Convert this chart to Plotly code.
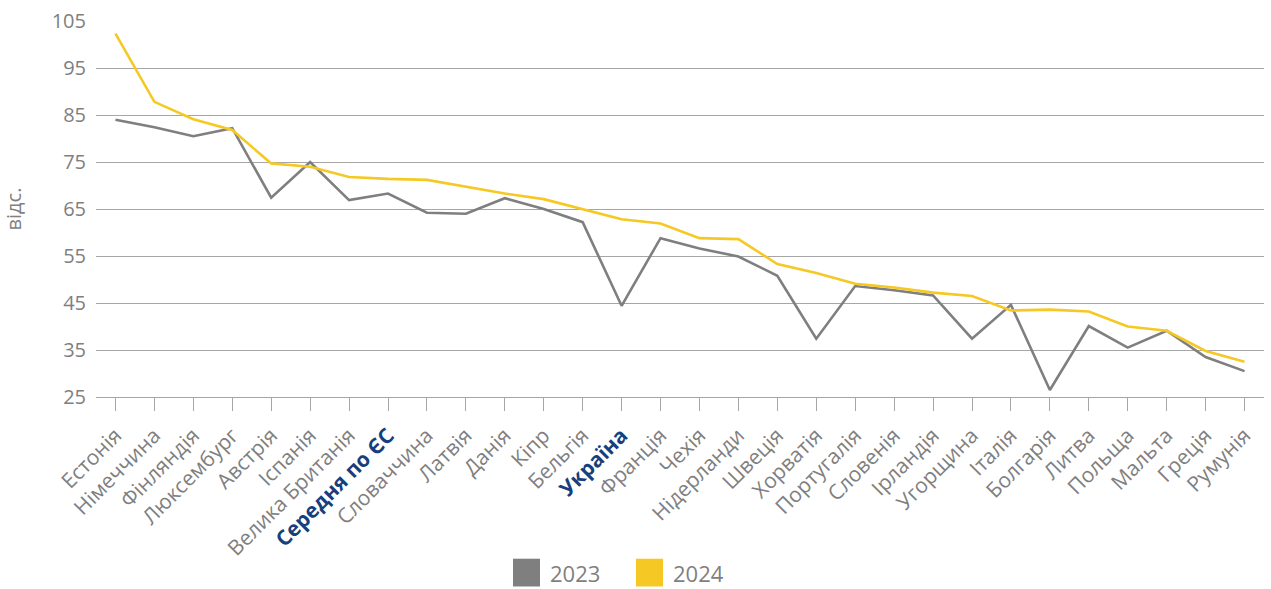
import plotly.graph_objects as go

categories = ["Естонія", "Німеччина", "Фінляндія", "Люксембург", "Австрія", "Іспанія",
              "Велика Британія", "Середня по ЄС", "Словаччина", "Латвія", "Данія", "Кіпр",
              "Бельгія", "Україна", "Франція", "Чехія", "Нідерланди", "Швеція", "Хорватія",
              "Португалія", "Словенія", "Ірландія", "Угорщина", "Італія", "Болгарія",
              "Литва", "Польща", "Мальта", "Греція", "Румунія"]

values_2023 = [84.0, 82.4, 80.5, 82.2, 67.4, 75.0, 66.9, 68.3, 64.2, 64.0, 67.3, 65.0,
               62.2, 44.4, 58.8, 56.6, 54.9, 50.8, 37.4, 48.6, 47.7, 46.6, 37.4, 44.6,
               26.5, 40.1, 35.5, 39.1, 33.5, 30.5]

values_2024 = [102.3, 87.8, 84.1, 81.8, 74.7, 74.0, 71.8, 71.4, 71.2, 69.7, 68.3, 67.1,
               65.0, 62.8, 61.9, 58.8, 58.6, 53.3, 51.4, 49.1, 48.3, 47.2, 46.5, 43.4,
               43.6, 43.2, 40.0, 39.1, 34.8, 32.5]

highlight = {"Середня по ЄС", "Україна"}
series_names = ["2023", "2024"]

GRAY = "#7f7f7f"
YELLOW = "#f6c823"
BLUE = "#173f7d"
FONT = "Open Sans"

ticktext = [
    f"<b><span style='color:{BLUE}'>{c}</span></b>" if c in highlight else c
    for c in categories
]

fig = go.Figure()
fig.add_trace(go.Scatter(x=categories, y=values_2023, mode="lines", name=series_names[0],
                         line=dict(color=GRAY, width=2.6), showlegend=False))
fig.add_trace(go.Scatter(x=categories, y=values_2024, mode="lines", name=series_names[1],
                         line=dict(color=YELLOW, width=2.6), showlegend=False))

fig.update_layout(
    width=1271, height=589,
    margin=dict(l=96, r=7, t=18, b=192),
    paper_bgcolor="white", plot_bgcolor="white",
    font=dict(family=FONT, color=GRAY, size=20),
    xaxis=dict(
        type="category", categoryorder="array", categoryarray=categories,
        range=[-0.5, len(categories) - 0.5],
        tickmode="array", tickvals=categories, ticktext=ticktext,
        tickangle=-45, ticks="outside", ticklen=13, tickcolor="#a6a6a6", tickwidth=1,
        ticklabelstandoff=4,
        tickfont=dict(family=FONT, size=21, color=GRAY),
        showgrid=False, showline=True, linecolor="#a6a6a6", linewidth=1,
        zeroline=False,
    ),
    yaxis=dict(
        range=[25, 105], dtick=10, tick0=25,
        showgrid=True, gridcolor="#a6a6a6", gridwidth=1,
        zeroline=False, showline=False,
        ticklabelstandoff=9,
        tickfont=dict(family=FONT, size=20, color=GRAY),
        title=dict(text="відс.", font=dict(family=FONT, size=20, color=GRAY), standoff=30),
    ),
    showlegend=False,
)

# legend drawn manually as squares + labels
legend_items = [(series_names[0], GRAY, 513), (series_names[1], YELLOW, 636)]
for name, color, px in legend_items:
    fig.add_shape(type="rect", xref="paper", yref="paper",
                  x0=(px - 96) / (1271 - 96 - 7), x1=(px + 27 - 96) / (1271 - 96 - 7),
                  y0=(397 - 588) / (397 - 18), y1=(397 - 560) / (397 - 18),
                  fillcolor=color, line=dict(width=0))
    fig.add_annotation(xref="paper", yref="paper",
                       x=(px + 35 - 96) / (1271 - 96 - 7), y=(397 - 574) / (397 - 18),
                       text=name, showarrow=False, xanchor="left", yanchor="middle",
                       font=dict(family=FONT, size=22, color=GRAY))

fig.write_html("out.html")
